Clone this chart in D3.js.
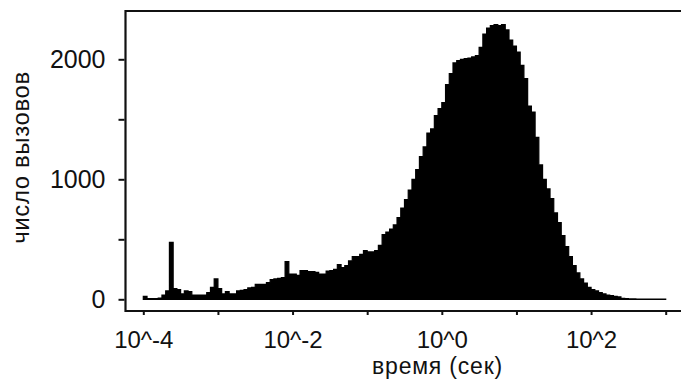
<!DOCTYPE html>
<html>
<head>
<meta charset="utf-8">
<script src="https://cdn.jsdelivr.net/npm/d3@7"></script>
<style>
  html, body { margin: 0; padding: 0; background: #fff; }
  svg { display: block; }
  text { font-family: "Liberation Sans", Arial, sans-serif; fill: #111; }
</style>
</head>
<body>
<svg id="chart" width="681" height="380"></svg>
<script>
// ---- data ----
const binsPerDecade = 20;
const logStart = -4;             // first bin edge: 10^-4
const counts = [
  25, 5, 5, 5, 10, 35, 70, 475, 90, 80,
  45, 70, 65, 35, 35, 35, 35, 55, 100, 170,
  90, 45, 65, 45, 45, 70, 75, 80, 95, 100,
  125, 125, 125, 140, 165, 170, 175, 180, 315, 210,
  210, 200, 240, 240, 230, 230, 225, 210, 210, 235,
  240, 250, 290, 265, 280, 320, 355, 355, 375, 405,
  395, 395, 405, 450, 540, 560, 585, 620, 680, 760,
  830, 910, 1000, 1080, 1190, 1270, 1385, 1420, 1530, 1590,
  1640, 1790, 1880, 1970, 1990, 2000, 2005, 2010, 2020, 2030,
  2100, 2210, 2260, 2280, 2290, 2280, 2290, 2245, 2160, 2110,
  2060, 1950, 1840, 1610, 1560, 1350, 1120, 1000, 920, 840,
  720, 640, 530, 440, 355, 280, 220, 170, 135, 100,
  80, 70, 55, 45, 35, 30, 25, 20, 8, 5,
  3, 3, 2, 2, 2, 1, 1, 1, 1, 1
];
const xTickValues = [1e-4, 1e-3, 1e-2, 1e-1, 1e0, 1e1, 1e2, 1e3];
const xTickLabels = ["10^-4", "", "10^-2", "", "10^0", "", "10^2", ""];
const yTickValues = [0, 500, 1000, 1500, 2000];
const yTickLabels = ["0", "", "1000", "", "2000"];
const xTitle = "время (сек)";
const yTitle = "число вызовов";

// ---- layout ----
const svg = d3.select("#chart");
const frame = { left: 125.5, top: 11, bottom: 311, right: 760 };

const x = d3.scaleLog().domain([1e-4, 1e3]).range([143.3, 665.7]);
const y = d3.scaleLinear().domain([0, 2000]).range([299.3, 59.3]);

// histogram steps
const steps = counts.map((c, i) => ({ e: Math.pow(10, logStart + i / binsPerDecade), c }));
steps.push({ e: Math.pow(10, logStart + counts.length / binsPerDecade), c: counts[counts.length - 1] });

const area = d3.area()
  .x(d => x(d.e))
  .y0(y(0))
  .y1(d => y(d.c))
  .curve(d3.curveStepAfter);

svg.append("path")
  .datum(steps)
  .attr("d", area)
  .attr("fill", "#000")
  .attr("stroke", "#000")
  .attr("stroke-width", 1.2)
  .attr("stroke-linejoin", "miter");

// frame (right side runs off the canvas)
svg.append("path")
  .attr("d", `M${frame.right},${frame.top}H${frame.left}V${frame.bottom}H${frame.right}`)
  .attr("fill", "none")
  .attr("stroke", "#111")
  .attr("stroke-width", 2.2);

// x axis
const xAxis = d3.axisBottom(x)
  .tickValues(xTickValues)
  .tickSize(3)
  .tickPadding(16)
  .tickFormat((d, i) => xTickLabels[i]);
const gx = svg.append("g").attr("transform", `translate(0,${frame.bottom + 1})`).call(xAxis);
gx.select(".domain").remove();
gx.selectAll(".tick line").attr("stroke", "#111").attr("stroke-width", 2);
gx.selectAll(".tick text")
  .style("font-size", "24px")
  .style("font-family", "'Liberation Sans', Arial, sans-serif")
  .attr("fill", "#111");

// y axis
const yAxis = d3.axisLeft(y)
  .tickValues(yTickValues)
  .tickSize(6)
  .tickPadding(13)
  .tickFormat((d, i) => yTickLabels[i]);
const gy = svg.append("g").attr("transform", `translate(${frame.left - 1},0)`).call(yAxis);
gy.select(".domain").remove();
gy.selectAll(".tick line").attr("stroke", "#111").attr("stroke-width", 2);
gy.selectAll(".tick text")
  .style("font-size", "25px")
  .style("font-family", "'Liberation Sans', Arial, sans-serif")
  .attr("fill", "#111");

// titles
svg.append("text")
  .attr("x", 437.5)
  .attr("y", 374)
  .attr("text-anchor", "middle")
  .style("font-size", "23px")
  .style("letter-spacing", "0.8px")
  .text(xTitle);

svg.append("text")
  .attr("transform", "translate(20.5,157.5) rotate(-90)")
  .attr("text-anchor", "middle")
  .attr("dominant-baseline", "central")
  .style("font-size", "24px")
  .style("letter-spacing", "0.6px")
  .text(yTitle);
</script>
</body>
</html>
